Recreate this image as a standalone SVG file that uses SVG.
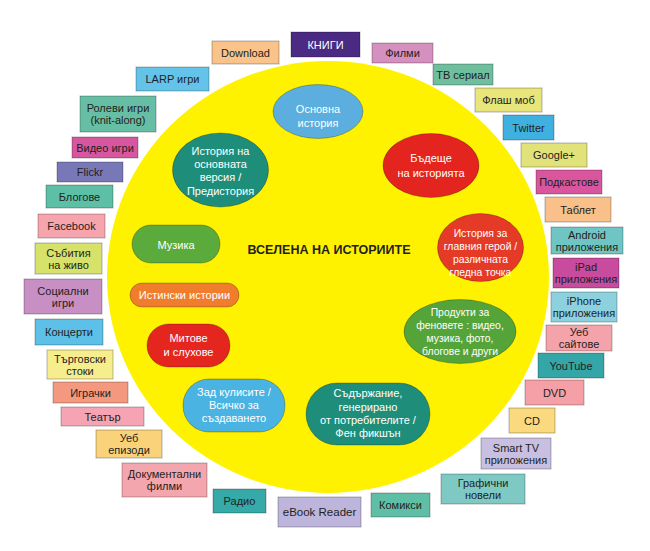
<svg xmlns="http://www.w3.org/2000/svg" width="650" height="551" viewBox="0 0 650 551">
<style>
.b{stroke:#000;stroke-opacity:0.28;stroke-width:1}
.t{font-family:"Liberation Sans",Arial,sans-serif;font-size:11px;fill:#231f20;text-anchor:middle}
.w{font-family:"Liberation Sans",Arial,sans-serif;font-size:11px;fill:#ffffff;text-anchor:middle}
.s{font-size:10.4px}
.n{stroke:#000;stroke-opacity:0.25;stroke-width:1}
</style>
<rect width="650" height="551" fill="#ffffff"/>
<ellipse id="universe" cx="328" cy="277" rx="221" ry="216" fill="#fff200"/>
<g id="connectors"/>
<text id="title" x="329" y="254" font-family="Liberation Sans,Arial,sans-serif" font-size="12.5" font-weight="bold" fill="#231f20" text-anchor="middle">ВСЕЛЕНА НА ИСТОРИИТЕ</text>

<g id="n-download"><rect class="b" x="212" y="41" width="67" height="23" fill="#f9c38a"/><text class="t" x="245.5" y="56.5">Download</text></g>
<g id="n-knigi"><rect class="b" x="291" y="32" width="69" height="25" fill="#4b2a83"/><text class="t" x="325.5" y="48.5" style="fill:#ffffff">КНИГИ</text></g>
<g id="n-filmi"><rect class="b" x="372" y="43" width="61" height="20" fill="#d490bf"/><text class="t" x="402.5" y="57">Филми</text></g>
<g id="n-tv"><rect class="b" x="433" y="64" width="60" height="21" fill="#6fbe9e"/><text class="t" x="463" y="78.5">ТВ сериал</text></g>
<g id="n-flashmob"><rect class="b" x="475" y="88" width="67" height="24" fill="#e8e57a"/><text class="t" x="508.5" y="104">Флаш моб</text></g>
<g id="n-twitter"><rect class="b" x="503" y="115" width="51" height="25" fill="#3fb1e0"/><text class="t" x="528.5" y="131.5">Twitter</text></g>
<g id="n-google"><rect class="b" x="521" y="143" width="66" height="24" fill="#e2e27a"/><text class="t" x="554" y="159">Google+</text></g>
<g id="n-podcasts"><rect class="b" x="536" y="170" width="66" height="24" fill="#d9569e"/><text class="t" x="569" y="186">Подкастове</text></g>
<g id="n-tablet"><rect class="b" x="545" y="197" width="66" height="25" fill="#f9c08a"/><text class="t" x="578" y="213.5">Таблет</text></g>
<g id="n-android"><rect class="b" x="551" y="227" width="72" height="27" fill="#6ec5c3"/><text class="t" x="587" y="238.5">Android</text><text class="t" x="587" y="250.5">приложения</text></g>
<g id="n-ipad"><rect class="b" x="553" y="258" width="66" height="30" fill="#c84b9e"/><text class="t" x="586" y="271">iPad</text><text class="t" x="586" y="283">приложения</text></g>
<g id="n-iphone"><rect class="b" x="551" y="292" width="66" height="30" fill="#8dd1de"/><text class="t" x="584" y="305">iPhone</text><text class="t" x="584" y="317">приложения</text></g>
<g id="n-websites"><rect class="b" x="546" y="325" width="66" height="26" fill="#f4a3ab"/><text class="t" x="579" y="336">Уеб</text><text class="t" x="579" y="348">сайтове</text></g>
<g id="n-youtube"><rect class="b" x="538" y="353" width="66" height="25" fill="#35a6a8"/><text class="t" x="571" y="369.5">YouTube</text></g>
<g id="n-dvd"><rect class="b" x="525" y="380" width="59" height="25" fill="#f4a0a6"/><text class="t" x="554.5" y="396.5">DVD</text></g>
<g id="n-cd"><rect class="b" x="509" y="408" width="46" height="25" fill="#fbd97e"/><text class="t" x="532" y="424.5">CD</text></g>
<g id="n-smarttv"><rect class="b" x="481" y="438" width="70" height="31" fill="#c9bfe0"/><text class="t" x="516" y="451.5">Smart TV</text><text class="t" x="516" y="463.5">приложения</text></g>
<g id="n-graphic"><rect class="b" x="441" y="474" width="84" height="30" fill="#7fc9c5"/><text class="t" x="483" y="487">Графични</text><text class="t" x="483" y="499">новели</text></g>
<g id="n-comics"><rect class="b" x="371" y="493" width="59" height="24" fill="#5fbfa6"/><text class="t" x="400.5" y="509">Комикси</text></g>
<g id="n-ebook"><rect class="b" x="278" y="497" width="83" height="30" fill="#bdb5dc"/><text class="t" x="319.5" y="516" style="font-size:11.5px">eBook Reader</text></g>
<g id="n-radio"><rect class="b" x="213" y="489" width="53" height="24" fill="#36a9a9"/><text class="t" x="239.5" y="505">Радио</text></g>
<g id="n-docs"><rect class="b" x="122" y="463" width="85" height="34" fill="#f4a6ae"/><text class="t" x="164.5" y="478">Документални</text><text class="t" x="164.5" y="490">филми</text></g>
<g id="n-webep"><rect class="b" x="96" y="430" width="66" height="28" fill="#fad27a"/><text class="t" x="129" y="442">Уеб</text><text class="t" x="129" y="454">епизоди</text></g>
<g id="n-theatre"><rect class="b" x="61" y="407" width="83" height="19" fill="#f6a4b4"/><text class="t" x="102.5" y="420.5">Театър</text></g>
<g id="n-toys"><rect class="b" x="53" y="382" width="75" height="21" fill="#f4997f"/><text class="t" x="90.5" y="396.5">Играчки</text></g>
<g id="n-merch"><rect class="b" x="47" y="350" width="66" height="29" fill="#f6ee8e"/><text class="t" x="80" y="362.5">Търговски</text><text class="t" x="80" y="374.5">стоки</text></g>
<g id="n-concerts"><rect class="b" x="35" y="319" width="68" height="26" fill="#5cc0e8"/><text class="t" x="69" y="336">Концерти</text></g>
<g id="n-social"><rect class="b" x="24" y="279" width="78" height="35" fill="#c78fc4"/><text class="t" x="63" y="294.5">Социални</text><text class="t" x="63" y="306.5">игри</text></g>
<g id="n-live"><rect class="b" x="35" y="243" width="67" height="31" fill="#d6e26a"/><text class="t" x="68.5" y="256.5">Събития</text><text class="t" x="68.5" y="268.5">на живо</text></g>
<g id="n-facebook"><rect class="b" x="38" y="214" width="67" height="24" fill="#f6a5ae"/><text class="t" x="71.5" y="230">Facebook</text></g>
<g id="n-blogs"><rect class="b" x="46" y="185" width="67" height="23" fill="#5cbfa6"/><text class="t" x="79.5" y="200.5">Блогове</text></g>
<g id="n-flickr"><rect class="b" x="57" y="162" width="66" height="20" fill="#7878b8"/><text class="t" x="90" y="176">Flickr</text></g>
<g id="n-videogames"><rect class="b" x="72" y="137" width="66" height="21" fill="#d6579f"/><text class="t" x="105" y="151.5">Видео игри</text></g>
<g id="n-rpg"><rect class="b" x="80" y="96" width="76" height="36" fill="#66bfa5"/><text class="t" x="118" y="112">Ролеви игри</text><text class="t" x="118" y="124">(knit-along)</text></g>
<g id="n-larp"><rect class="b" x="136" y="67" width="73" height="24" fill="#64c3e9"/><text class="t" x="172.5" y="83">LARP игри</text></g>

<g id="c-main"><ellipse class="n" cx="318" cy="111.5" rx="45" ry="27" fill="#5baedd"/><text class="w" x="318" y="113">Основна</text><text class="w" x="318" y="127">история</text></g>
<g id="c-prequel"><ellipse class="n" cx="220.5" cy="170" rx="48" ry="37" fill="#1e8e7a"/><text class="w" x="220.5" y="155">История на</text><text class="w" x="220.5" y="168">основната</text><text class="w" x="220.5" y="181">версия /</text><text class="w" x="220.5" y="195">Предистория</text></g>
<g id="c-future"><ellipse class="n" cx="431" cy="165.5" rx="48" ry="32" fill="#e4251f"/><text class="w" x="431" y="162">Бъдеще</text><text class="w" x="431" y="177">на историята</text></g>
<g id="c-hero"><ellipse class="n" cx="480.5" cy="247.5" rx="43" ry="34" fill="#e53a25"/><text class="w s" x="480.5" y="237">История за</text><text class="w s" x="480.5" y="250">главния герой /</text><text class="w s" x="480.5" y="263">различната</text><text class="w s" x="480.5" y="276">гледна точка</text></g>
<g id="c-fan"><ellipse class="n" cx="460" cy="331.5" rx="56" ry="32" fill="#55a43a"/><text class="w s" x="460" y="316">Продукти за</text><text class="w s" x="460" y="329">феновете : видео,</text><text class="w s" x="460" y="342">музика, фото,</text><text class="w s" x="460" y="355">блогове и други</text></g>
<g id="c-ugc"><rect class="n" x="306" y="383" width="124" height="62" rx="31" fill="#1e8e7a"/><text class="w" x="368" y="397">Съдържание,</text><text class="w" x="368" y="411">генерирано</text><text class="w" x="368" y="424">от потребителите /</text><text class="w" x="368" y="437">Фен фикшън</text></g>
<g id="c-behind"><rect class="n" x="183" y="379" width="102" height="53" rx="26" fill="#4bb3e2"/><text class="w" x="234" y="396">Зад кулисите /</text><text class="w" x="234" y="409">Всичко за</text><text class="w" x="234" y="422">създаването</text></g>
<g id="c-music"><rect class="n" x="132" y="225" width="88" height="38" rx="19" fill="#5aaa3c"/><text class="w" x="176" y="249">Музика</text></g>
<g id="c-true"><rect class="n" x="130" y="283" width="109" height="24" rx="12" fill="#f07d2b"/><text class="w" x="184.5" y="299">Истински истории</text></g>
<g id="c-myths"><rect class="n" x="147" y="324" width="83" height="43" rx="21.5" fill="#e4261f"/><text class="w" x="188.5" y="342">Митове</text><text class="w" x="188.5" y="356">и слухове</text></g>
</svg>
